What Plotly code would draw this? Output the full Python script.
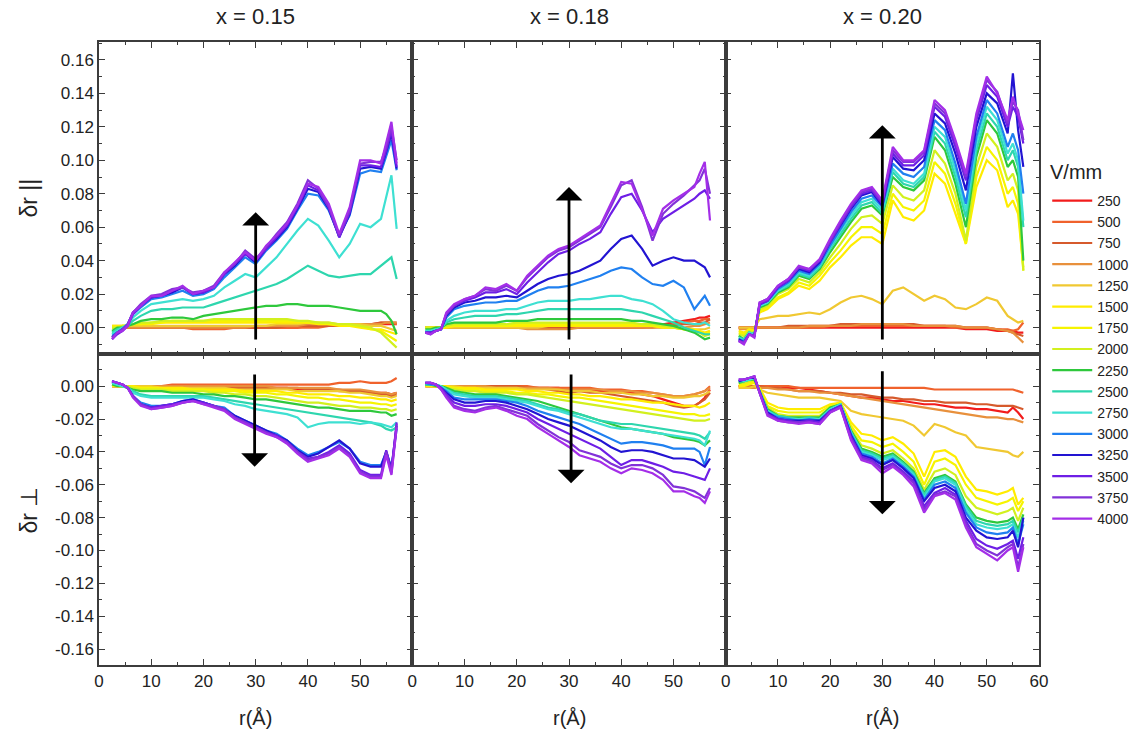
import plotly.graph_objects as go
from plotly.subplots import make_subplots

# ---------------- data (in units of 1e-3) ----------------
R = [2.5, 3.5, 4.5, 5.5, 6.5, 8, 10, 12, 14, 16, 18, 20, 22, 24, 26, 28, 30, 32, 34, 36,
     38, 40, 42, 44, 46, 48, 50, 52, 54, 55, 56, 57]

VOLTAGES = [250, 500, 750, 1000, 1250, 1500, 1750, 2000, 2250, 2500, 2750, 3000, 3250, 3500, 3750, 4000]

COLORS = ["#f21c1c", "#f0622c", "#d65a2c", "#e8903c", "#f0c832", "#ffec00", "#f6f400", "#d2f01e",
          "#2ec83c", "#2ed6ae", "#3ee0d2", "#2080f0", "#2214d2", "#6e1ee6", "#8232d8", "#a42ee8"]

PANEL_TITLES = ["x = 0.15", "x = 0.18", "x = 0.20"]

# delta r parallel, x = 0.15  (rows: 250 ... 4000)
PAR_015 = [
    [0,0,0,0,0,0,0,0,0,0,0,0,0,0,0,0,0,0,0,0,0,1,1,1,1,1,1,2,2,2,2,2],
    [0,0,0,0,0,0,0,0,0,0,-1,-1,-1,-1,0,0,0,0,0,0,0,0,0,1,1,1,2,2,3,3,3,2],
    [0,0,0,0,0,0,0,0,0,0,0,0,0,0,0,0,0,0,0,1,1,1,1,1,1,1,2,2,3,3,3,3],
    [0,0,0,0,0,0,0,0,0,0,0,0,0,0,0,0,1,1,1,1,1,2,2,2,2,2,2,2,2,3,3,3],
    [1,1,1,1,1,1,1,1,1,1,1,1,1,1,1,1,1,1,2,2,2,3,3,3,2,2,2,1,1,0,-1,-2],
    [1,1,1,1,2,2,2,3,3,3,3,3,3,3,3,3,3,3,3,3,3,3,2,2,1,1,0,-1,-1,-2,-3,-4],
    [0,0,1,1,2,2,3,3,4,4,4,4,4,4,4,4,4,4,4,4,4,3,3,2,2,1,1,-1,-2,-4,-6,-8],
    [0,0,1,1,2,3,3,4,4,4,4,4,5,5,5,5,5,5,5,5,4,4,3,3,2,2,1,0,-3,-6,-9,-12],
    [-2,0,0,1,2,4,5,5,6,6,5,7,8,9,10,11,12,13,13,14,14,13,13,13,12,11,10,10,10,8,4,-4],
    [-3,-1,0,1,4,7,10,11,11,12,12,12,14,16,18,20,22,24,26,29,33,37,34,31,30,31,32,32,37,40,42,29],
    [-4,-2,0,2,6,10,14,15,16,17,16,17,19,24,28,32,30,36,42,50,58,65,61,52,42,50,62,60,65,78,91,59],
    [-5,-3,-1,2,8,12,17,18,20,22,19,20,23,30,36,42,38,46,52,59,70,80,79,70,55,67,92,94,93,102,112,94],
    [-6,-3,-1,2,9,13,18,19,21,24,20,21,24,32,37,44,39,47,53,60,71,83,81,71,54,68,95,96,95,105,116,95],
    [-7,-4,-2,1,8,13,18,19,22,24,20,21,24,32,38,44,40,47,54,61,72,85,82,72,54,69,97,97,96,106,118,96],
    [-6,-3,-1,2,9,14,19,20,23,24,21,22,25,33,38,46,41,48,56,63,74,88,83,72,55,70,98,99,99,108,120,100],
    [-7,-3,-2,1,9,13,19,19,22,25,20,22,24,33,39,45,40,49,55,62,73,86,84,74,56,72,100,100,98,110,123,98],
]

# delta r parallel, x = 0.18
PAR_018 = [
    [0,0,0,0,0,0,0,0,0,0,0,0,0,0,0,0,0,0,0,0,0,0,0,1,1,2,3,4,5,6,6,7],
    [0,0,0,0,0,0,0,0,0,0,0,0,0,0,0,0,0,0,0,0,0,0,0,0,1,1,2,3,4,4,5,5],
    [0,0,0,0,0,0,0,0,0,0,0,0,0,0,0,0,0,0,0,0,0,0,0,0,0,1,1,2,2,3,3,5],
    [0,0,0,0,0,0,0,0,0,0,0,0,-1,-1,-1,-1,-1,0,0,0,0,0,0,0,0,0,0,0,1,1,2,3],
    [0,0,0,0,0,0,0,0,0,0,0,0,0,0,1,1,1,1,1,1,1,1,1,1,1,0,0,0,-1,-1,-1,0],
    [0,0,0,0,0,1,1,1,1,1,1,1,1,1,1,1,1,1,1,1,1,1,1,1,1,0,0,-1,-1,-2,-3,-2],
    [0,0,0,0,1,1,1,1,1,1,1,2,2,2,2,2,2,2,2,2,2,2,2,2,1,1,0,-1,-2,-3,-4,-3],
    [0,0,0,0,1,2,2,2,2,2,2,3,3,3,3,3,3,3,3,3,3,3,3,2,2,1,0,-1,-2,-3,-5,-4],
    [-1,-1,0,0,2,3,3,3,3,3,4,4,4,5,5,5,5,5,5,5,5,5,4,4,3,2,1,-1,-3,-5,-7,-6],
    [-2,-2,-1,0,3,5,6,7,7,7,8,8,9,10,11,11,11,11,11,11,11,11,10,9,7,5,3,0,-2,-3,-4,-4],
    [-2,-2,-1,-1,4,7,9,10,10,10,11,11,13,15,16,16,16,17,17,18,19,19,17,16,14,10,5,3,2,2,3,1],
    [-3,-3,-2,-1,6,11,13,14,15,15,16,16,19,22,24,24,25,27,29,31,34,36,35,30,26,25,28,24,11,15,19,13],
    [-3,-3,-2,-1,7,12,15,16,18,18,19,18,22,26,29,31,32,34,37,40,47,53,55,47,37,40,42,40,40,38,36,30],
    [-3,-3,-2,-1,8,13,16,18,21,21,23,20,27,33,39,44,46,50,53,57,68,78,80,70,57,65,69,73,77,80,82,77],
    [-3,-4,-2,-1,8,13,17,19,23,22,25,22,30,36,42,46,48,52,56,60,72,85,88,72,52,68,74,79,85,88,95,80],
    [-3,-4,-2,-1,9,14,17,19,24,23,26,22,31,37,43,47,49,53,57,61,74,87,86,70,55,71,76,80,84,92,99,64],
]

# delta r parallel, x = 0.20
PAR_020 = [
    [0,0,0,0,0,0,0,0,0,0,0,0,0,0,0,0,0,0,0,0,0,0,0,0,-1,-1,-1,-2,-2,-2,-3,-3],
    [0,0,0,0,0,0,0,0,0,0,0,1,1,1,1,1,1,1,1,1,1,1,1,0,0,0,0,-1,-1,-2,-1,3],
    [0,0,0,0,0,0,0,1,1,1,1,1,2,2,2,2,2,2,2,2,1,1,1,1,0,0,0,-1,-2,-3,-4,-5],
    [-1,-1,-1,-1,0,0,0,0,0,1,1,1,1,1,2,2,2,2,2,1,1,1,1,1,0,0,0,-1,-2,-3,-6,-9],
    [0,0,0,0,5,6,7,7,8,9,8,11,15,18,19,17,14,22,24,20,16,19,17,12,11,14,18,16,7,5,3,4],
    [-2,-3,-1,-2,9,11,17,20,25,23,28,36,42,49,54,54,50,76,66,64,70,92,86,68,50,84,100,94,72,76,68,36],
    [-3,-4,-2,-2,10,12,18,21,27,25,31,39,46,54,60,60,56,80,72,70,76,99,92,74,50,90,108,100,80,84,74,34],
    [-4,-5,-2,-3,11,13,20,23,29,27,33,42,50,59,66,67,62,85,78,76,82,106,98,80,52,96,116,108,88,92,82,34],
    [-5,-7,-3,-4,12,14,21,24,31,29,35,45,54,63,71,73,67,90,84,82,88,114,106,86,60,102,124,116,96,100,90,40],
    [-6,-7,-3,-4,13,15,22,25,32,30,36,47,56,65,73,75,68,93,86,84,90,117,110,90,66,106,128,120,100,106,96,60],
    [-6,-8,-3,-4,13,15,22,26,33,31,37,48,58,67,75,77,70,95,88,86,92,120,114,94,70,110,132,124,104,110,100,64],
    [-7,-8,-4,-5,14,16,23,27,34,32,38,49,59,69,77,79,72,98,92,90,96,124,118,98,74,114,136,128,108,116,106,80],
    [-7,-9,-4,-5,14,16,24,28,35,33,39,51,61,71,79,81,73,102,95,94,100,128,122,104,82,120,140,134,116,152,118,96],
    [-8,-9,-4,-5,14,16,24,28,36,34,40,51,62,72,80,82,74,104,97,97,103,132,126,108,88,124,145,138,120,132,126,110],
    [-8,-9,-4,-5,15,17,25,29,36,35,40,52,63,73,81,83,75,106,99,99,105,134,128,111,90,126,148,141,122,135,130,112],
    [-8,-10,-4,-6,15,17,25,29,37,35,41,53,64,74,82,84,76,108,100,100,106,136,130,112,92,128,150,140,124,138,128,118],
]

# delta r perpendicular, x = 0.15
PERP_015 = [
    [0,0,0,0,0,0,0,0,0,0,0,0,0,-1,-1,-1,-1,-1,-1,-1,-2,-2,-2,-2,-3,-3,-3,-4,-4,-4,-5,-4],
    [0,0,0,0,0,0,0,0,1,1,1,1,1,1,1,1,1,1,1,1,1,1,1,1,2,2,3,2,2,2,3,5],
    [0,0,0,0,0,0,0,0,0,0,0,0,-1,-1,-1,-1,-1,-1,-1,-1,-1,-2,-2,-2,-2,-3,-3,-4,-5,-5,-6,-5],
    [0,0,0,0,0,0,0,0,0,0,0,0,0,0,0,0,0,0,-1,-1,-1,-1,-1,-1,-2,-2,-2,-3,-4,-4,-5,-4],
    [0,0,0,0,0,0,0,-1,-1,-1,-1,-1,-1,-1,-2,-2,-2,-2,-2,-2,-3,-3,-3,-3,-3,-4,-4,-5,-6,-6,-7,-6],
    [0,0,0,0,0,-1,-1,-1,-1,-1,-2,-2,-2,-2,-2,-3,-3,-3,-3,-4,-4,-5,-5,-5,-6,-6,-7,-7,-8,-8,-9,-8],
    [1,0,0,0,-1,-1,-1,-2,-2,-2,-2,-2,-3,-3,-3,-4,-4,-4,-5,-5,-6,-7,-7,-8,-8,-9,-10,-10,-11,-11,-12,-11],
    [1,0,0,0,-1,-2,-2,-2,-3,-3,-3,-3,-4,-4,-5,-5,-6,-6,-7,-8,-9,-10,-10,-11,-12,-12,-13,-13,-14,-14,-15,-14],
    [1,0,0,-1,-2,-3,-3,-3,-4,-4,-4,-5,-5,-6,-6,-7,-8,-8,-9,-10,-11,-12,-13,-13,-14,-15,-15,-15,-16,-16,-18,-17],
    [2,1,0,-1,-3,-5,-6,-6,-6,-6,-6,-6,-7,-8,-9,-10,-11,-12,-13,-14,-15,-16,-17,-18,-19,-20,-21,-22,-24,-26,-27,-25],
    [2,1,0,-1,-4,-6,-7,-7,-7,-7,-7,-7,-8,-9,-11,-12,-14,-15,-16,-17,-19,-25,-23,-22,-22,-22,-23,-22,-23,-24,-25,-22],
    [3,2,1,-1,-6,-10,-12,-12,-11,-9,-8,-10,-12,-13,-18,-21,-24,-27,-29,-33,-38,-42,-40,-37,-34,-38,-46,-48,-48,-40,-50,-26],
    [3,2,1,-1,-6,-11,-13,-12,-11,-9,-8,-10,-12,-14,-18,-21,-24,-27,-30,-33,-39,-43,-41,-37,-33,-38,-47,-49,-49,-40,-50,-24],
    [3,2,1,-1,-6,-11,-13,-12,-11,-10,-9,-10,-12,-14,-19,-22,-25,-28,-30,-34,-40,-44,-43,-40,-36,-41,-51,-54,-54,-39,-52,-22],
    [3,2,1,-1,-6,-11,-14,-13,-12,-10,-9,-11,-12,-14,-19,-22,-25,-28,-31,-34,-40,-45,-43,-41,-37,-42,-52,-55,-55,-40,-53,-23],
    [3,2,1,-1,-7,-12,-14,-13,-12,-10,-9,-11,-13,-15,-20,-23,-26,-29,-31,-35,-41,-46,-44,-42,-38,-43,-53,-56,-56,-42,-54,-25],
]

# delta r perpendicular, x = 0.18
PERP_018 = [
    [0,0,0,0,0,0,0,0,0,0,0,0,-1,-1,-1,-1,-2,-2,-2,-3,-3,-4,-4,-5,-6,-8,-10,-12,-12,-10,-7,-2],
    [0,0,0,0,0,0,0,0,0,0,0,0,0,-1,-1,-1,-1,-1,-1,-2,-2,-2,-3,-3,-4,-5,-6,-6,-5,-4,-3,0],
    [0,0,0,0,0,0,0,0,0,0,0,0,-1,-1,-2,-3,-4,-3,-4,-4,-5,-6,-7,-8,-9,-10,-12,-13,-12,-10,-8,-4],
    [0,0,0,0,0,0,0,0,0,-1,-1,-1,-1,-1,-1,-2,-2,-2,-2,-2,-3,-3,-3,-4,-4,-5,-6,-6,-5,-4,-3,-1],
    [0,0,0,0,0,0,-1,-1,-1,-1,-1,-1,-2,-2,-2,-2,-3,-3,-3,-4,-4,-4,-5,-5,-6,-6,-7,-7,-6,-6,-5,-3],
    [0,0,0,0,0,-1,-1,-1,-2,-2,-2,-2,-3,-3,-4,-4,-5,-5,-6,-6,-7,-8,-8,-9,-10,-10,-11,-12,-12,-13,-12,-10],
    [1,0,0,0,-1,-1,-2,-2,-3,-3,-3,-4,-4,-5,-5,-6,-7,-7,-8,-9,-10,-11,-12,-13,-14,-15,-16,-17,-17,-18,-18,-17],
    [1,1,0,0,-1,-2,-3,-3,-4,-4,-4,-5,-5,-6,-7,-8,-9,-10,-11,-12,-13,-14,-15,-16,-17,-18,-19,-20,-21,-21,-21,-20],
    [1,1,0,0,-1,-3,-4,-5,-5,-5,-6,-7,-8,-9,-11,-13,-15,-17,-19,-21,-23,-25,-26,-27,-28,-29,-31,-32,-33,-34,-36,-33],
    [1,1,1,0,-2,-4,-5,-6,-6,-6,-7,-8,-9,-11,-13,-14,-16,-17,-19,-21,-22,-23,-23,-24,-25,-26,-27,-28,-29,-30,-32,-28],
    [2,1,1,0,-2,-5,-6,-7,-7,-7,-8,-9,-10,-12,-14,-15,-17,-19,-21,-23,-25,-26,-26,-27,-28,-29,-30,-31,-32,-33,-36,-27],
    [2,1,1,-1,-3,-7,-8,-8,-8,-8,-9,-10,-12,-15,-17,-19,-21,-23,-26,-29,-32,-35,-34,-34,-35,-36,-38,-38,-38,-40,-48,-37],
    [2,2,1,-1,-4,-8,-10,-10,-9,-9,-10,-12,-14,-17,-20,-22,-24,-27,-30,-33,-37,-40,-39,-39,-40,-42,-44,-44,-45,-47,-49,-44],
    [2,2,1,-1,-5,-10,-12,-12,-11,-11,-12,-14,-16,-20,-23,-26,-29,-32,-35,-38,-43,-48,-45,-45,-47,-49,-52,-53,-55,-56,-57,-50],
    [2,2,1,-2,-6,-12,-14,-15,-13,-12,-14,-16,-18,-23,-27,-31,-34,-39,-41,-43,-47,-50,-48,-48,-50,-54,-61,-62,-64,-66,-68,-62],
    [2,2,1,-2,-7,-13,-15,-16,-14,-13,-15,-18,-20,-25,-29,-33,-37,-42,-44,-46,-50,-53,-50,-51,-53,-57,-64,-64,-67,-68,-71,-64],
]

# delta r perpendicular, x = 0.20
PERP_020 = [
    [0,0,0,0,0,0,0,-1,-1,-2,-3,-4,-5,-6,-7,-7,-8,-9,-9,-10,-11,-11,-12,-13,-13,-14,-14,-15,-16,-13,-16,-20],
    [0,0,0,0,0,0,0,0,-1,-1,-1,-1,-1,-1,-1,-1,-1,-1,-1,-1,-1,-2,-2,-2,-2,-2,-2,-2,-2,-2,-3,-4],
    [0,0,0,0,0,-1,-1,-2,-3,-3,-3,-4,-4,-5,-5,-6,-7,-7,-8,-8,-9,-9,-10,-10,-10,-11,-11,-12,-12,-12,-13,-14],
    [-1,-1,-1,-1,-1,-1,-2,-2,-3,-3,-4,-4,-5,-6,-7,-8,-9,-10,-11,-12,-13,-14,-15,-16,-17,-18,-19,-19,-20,-20,-21,-22],
    [-1,-1,-1,0,-2,-4,-5,-6,-7,-7,-7,-8,-9,-15,-17,-18,-19,-20,-21,-24,-30,-23,-25,-28,-30,-37,-38,-39,-40,-42,-43,-40],
    [0,0,1,2,-1,-10,-13,-14,-14,-14,-14,-11,-10,-22,-29,-30,-33,-31,-35,-41,-55,-40,-39,-43,-55,-63,-64,-66,-64,-62,-72,-68],
    [1,1,2,3,-2,-12,-15,-16,-16,-16,-16,-12,-10,-24,-33,-34,-37,-35,-40,-46,-60,-46,-44,-48,-60,-68,-70,-72,-70,-68,-76,-70],
    [2,2,3,4,-2,-13,-17,-18,-18,-18,-18,-13,-11,-26,-36,-38,-41,-39,-44,-50,-63,-52,-50,-54,-67,-74,-76,-78,-76,-74,-82,-74],
    [2,3,4,4,-3,-14,-18,-19,-19,-19,-19,-13,-11,-27,-38,-40,-43,-41,-46,-52,-65,-56,-54,-58,-72,-80,-82,-83,-82,-80,-87,-78],
    [3,3,4,5,-3,-15,-18,-19,-20,-19,-20,-14,-11,-28,-39,-41,-44,-42,-47,-53,-66,-57,-55,-59,-73,-82,-84,-85,-84,-82,-89,-80],
    [3,3,4,5,-3,-15,-19,-20,-20,-20,-20,-14,-11,-28,-40,-42,-45,-43,-48,-54,-68,-58,-56,-60,-75,-84,-86,-87,-86,-84,-92,-82],
    [3,4,5,5,-3,-16,-19,-20,-21,-20,-21,-15,-12,-29,-41,-43,-47,-44,-49,-55,-69,-60,-58,-62,-77,-86,-89,-90,-89,-86,-96,-84],
    [3,4,5,5,-3,-16,-20,-21,-21,-21,-21,-15,-12,-30,-42,-44,-48,-45,-50,-56,-70,-62,-60,-64,-80,-88,-92,-93,-92,-88,-98,-80],
    [4,4,5,6,-4,-17,-20,-21,-22,-21,-22,-15,-12,-31,-43,-45,-50,-47,-52,-58,-73,-65,-62,-66,-82,-93,-97,-99,-96,-94,-105,-92],
    [4,4,5,6,-4,-17,-21,-22,-22,-22,-23,-16,-13,-32,-44,-46,-51,-48,-53,-59,-75,-66,-64,-67,-84,-96,-100,-103,-98,-96,-110,-96],
    [4,4,5,6,-4,-18,-21,-22,-23,-22,-23,-16,-13,-33,-45,-47,-53,-49,-54,-61,-77,-67,-65,-69,-86,-98,-102,-106,-100,-98,-113,-98],
]

# tick values / labels
X_TICKS_12 = [0, 10, 20, 30, 40, 50]
X_TICKS_3 = [0, 10, 20, 30, 40, 50, 60]
X_MINOR = [5, 15, 25, 35, 45, 55]
Y_TOP_TICKS = [0.0, 0.02, 0.04, 0.06, 0.08, 0.10, 0.12, 0.14, 0.16]
Y_TOP_LABELS = ["0.00", "0.02", "0.04", "0.06", "0.08", "0.10", "0.12", "0.14", "0.16"]
Y_TOP_MINOR = [-0.01, 0.01, 0.03, 0.05, 0.07, 0.09, 0.11, 0.13, 0.15, 0.17]
Y_BOT_TICKS = [0.0, -0.02, -0.04, -0.06, -0.08, -0.10, -0.12, -0.14, -0.16]
Y_BOT_LABELS = ["0.00", "-0.02", "-0.04", "-0.06", "-0.08", "-0.10", "-0.12", "-0.14", "-0.16"]
Y_BOT_MINOR = [0.01, -0.01, -0.03, -0.05, -0.07, -0.09, -0.11, -0.13, -0.15, -0.17]

# arrows: (row, col, x, tail y, head y)
ARROWS = [
    (1, 1, 30.0, -0.008, 0.069), (1, 2, 30.0, -0.008, 0.084), (1, 3, 30.0, -0.008, 0.121),
    (2, 1, 29.8, 0.008, -0.049), (2, 2, 30.4, 0.008, -0.059), (2, 3, 30.0, 0.010, -0.078),
]

# ---------------- figure ----------------
FONT = "Liberation Sans, Arial, sans-serif"
AXC = "#3c3c3c"

fig = make_subplots(rows=2, cols=3, horizontal_spacing=0, vertical_spacing=0)

panels = [(1, 1, PAR_015), (1, 2, PAR_018), (1, 3, PAR_020),
          (2, 1, PERP_015), (2, 2, PERP_018), (2, 3, PERP_020)]

for row, col, series in panels:
    for i, v in enumerate(VOLTAGES):
        fig.add_trace(go.Scatter(
            x=R, y=[val / 1000 for val in series[i]], mode="lines",
            line=dict(color=COLORS[i], width=2.2),
            name=str(v), legendgroup=str(v),
            showlegend=(row == 1 and col == 1),
        ), row=row, col=col)

for row in (1, 2):
    for col in (1, 2, 3):
        xt = X_TICKS_3 if col == 3 else X_TICKS_12
        fig.update_xaxes(
            range=[0, 60], tickmode="array", tickvals=xt,
            showticklabels=(row == 2), ticks="inside", ticklen=6, tickwidth=1.3, tickcolor=AXC,
            minor=dict(tickmode="array", tickvals=X_MINOR, ticks="inside", ticklen=3, tickcolor=AXC),
            showline=True, linecolor=AXC, linewidth=1.5, mirror="ticks",
            showgrid=False, zeroline=False, automargin=False,
            tickfont=dict(family=FONT, size=17, color="#222"),
            row=row, col=col)
        if row == 1:
            yr, yt, yl, ym = [-0.0155, 0.1707], Y_TOP_TICKS, Y_TOP_LABELS, Y_TOP_MINOR
        else:
            yr, yt, yl, ym = [-0.1697, 0.0199], Y_BOT_TICKS, Y_BOT_LABELS, Y_BOT_MINOR
        fig.update_yaxes(
            range=yr, tickmode="array", tickvals=yt, ticktext=yl,
            showticklabels=(col == 1), ticks="inside", ticklen=6, tickwidth=1.3, tickcolor=AXC,
            minor=dict(tickmode="array", tickvals=ym, ticks="inside", ticklen=3, tickcolor=AXC),
            showline=True, linecolor=AXC, linewidth=1.5, mirror="ticks",
            showgrid=False, zeroline=False, automargin=False,
            tickfont=dict(family=FONT, size=17, color="#222"),
            row=row, col=col)

annotations = []
for k, t in enumerate(PANEL_TITLES):
    annotations.append(dict(text=t, x=(2 * k + 1) / 6, y=1.0417, xref="paper", yref="paper",
                            xanchor="center", yanchor="middle", showarrow=False,
                            font=dict(family=FONT, size=22, color="#222")))
    annotations.append(dict(text="r(Å)", x=(2 * k + 1) / 6, y=-0.085, xref="paper", yref="paper",
                            xanchor="center", yanchor="middle", showarrow=False,
                            font=dict(family=FONT, size=20, color="#222")))
annotations.append(dict(text="δr ||", x=-0.075, y=0.7496, xref="paper", yref="paper", textangle=-90,
                        xanchor="center", yanchor="middle", showarrow=False,
                        font=dict(family=FONT, size=23, color="#222")))
annotations.append(dict(text="δr ⊥", x=-0.075, y=0.2488, xref="paper", yref="paper", textangle=-90,
                        xanchor="center", yanchor="middle", showarrow=False,
                        font=dict(family=FONT, size=23, color="#222")))
annotations.append(dict(text="V/mm", x=1.039, y=0.7913, xref="paper", yref="paper",
                        xanchor="center", yanchor="middle", showarrow=False,
                        font=dict(family=FONT, size=20, color="#222")))

for row, col, x, ytail, yhead in ARROWS:
    idx = (row - 1) * 3 + col
    sx = "" if idx == 1 else str(idx)
    annotations.append(dict(x=x, y=yhead, ax=x, ay=ytail, xref="x" + sx, yref="y" + sx,
                            axref="x" + sx, ayref="y" + sx, text="", showarrow=True,
                            arrowhead=1, arrowsize=1.6, arrowwidth=2.8, arrowcolor="#000"))

fig.update_layout(
    width=1146, height=735, autosize=False,
    margin=dict(l=99, r=99, t=42, b=70),
    paper_bgcolor="white", plot_bgcolor="white",
    annotations=annotations,
    legend=dict(x=1.1013, y=0.7705, xanchor="right", yanchor="top",
                font=dict(family=FONT, size=14, color="#222"),
                bgcolor="rgba(0,0,0,0)", tracegroupgap=0, itemwidth=40),
    font=dict(family=FONT, color="#222"),
)

# remove the default 8 px page margin so the figure sits at the window's corner
fig.write_html("out.html", config={"displayModeBar": False},
               post_script="document.body.style.margin='0';")
